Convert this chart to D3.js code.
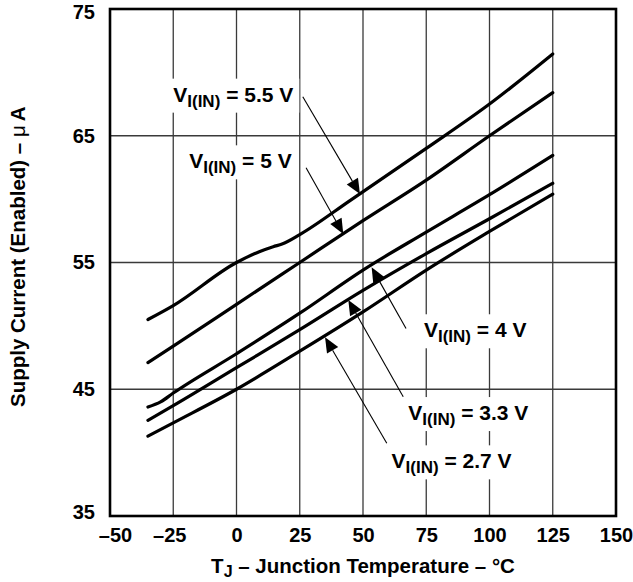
<!DOCTYPE html>
<html>
<head>
<meta charset="utf-8">
<script src="https://cdn.jsdelivr.net/npm/d3@7"></script>
<style>
  body { margin: 0; background: #fff; }
  svg text { font-family: "Liberation Sans", Arial, Helvetica, sans-serif; font-weight: bold; fill: #000; }
</style>
</head>
<body>
<svg class="chart"></svg>
<script>
// Supply current vs junction temperature, one series per input voltage
const xTicks = [-50, -25, 0, 25, 50, 75, 100, 125, 150];
const yTicks = [35, 45, 55, 65, 75];

const t55 = [-35, -25, 0, 9, 14.5, 18, 25, 45, 75, 100, 125];
const i55 = [50.5, 51.6, 55.0, 55.85, 56.25, 56.45, 57.2, 59.9, 64.0, 67.5, 71.45];
const t50 = [-35, -25, 0, 25, 50, 75, 100, 125];
const i50 = [47.1, 48.4, 51.7, 55.0, 58.3, 61.5, 65.0, 68.4];
const t40 = [-35, -30, -25, 0, 25, 50, 75, 100, 125];
const i40 = [43.6, 44.0, 44.7, 47.8, 51.0, 54.4, 57.4, 60.35, 63.45];
const t33 = [-35, -25, 0, 25, 50, 75, 100, 125];
const i33 = [42.55, 43.7, 46.7, 49.7, 52.8, 55.7, 58.45, 61.25];
const t27 = [-35, -25, 0, 25, 50, 75, 100, 125];
const i27 = [41.3, 42.35, 45.0, 48.0, 51.1, 54.4, 57.45, 60.4];

const seriesT = [t55, t50, t40, t33, t27];
const seriesI = [i55, i50, i40, i33, i27];

// annotation labels: voltage text, label anchor (T, I), arrow tail, arrow tip
const labelVolts = ["5.5", "5", "4", "3.3", "2.7"];
const labelT = [-25.0, -18.7, 74.1, 67.9, 61.3];
const labelI = [67.69, 62.43, 49.1, 42.57, 38.76];
const tailT = [26.2, 27.5, 67.0, 65.9, 59.4];
const tailI = [68.08, 62.48, 49.8, 44.41, 40.74];
const tipT = [48.8, 42.2, 53.4, 44.2, 35.0];
const tipI = [60.4, 57.25, 54.62, 52.04, 49.1];

const width = 633, height = 582;
const mLeft = 110, mRight = 616, mTop = 9, mBottom = 516;

const scaleX = d3.scaleLinear().domain([-50, 150]).range([mLeft, mRight]);
const scaleY = d3.scaleLinear().domain([35, 75]).range([mBottom, mTop]);

const svg = d3.select(".chart").attr("width", width).attr("height", height);

// grid
svg.append("g").selectAll("line").data(xTicks.slice(1, -1)).join("line")
    .attr("x1", d => scaleX(d)).attr("x2", d => scaleX(d))
    .attr("y1", mTop).attr("y2", mBottom)
    .attr("stroke", "#3a3a3a").attr("stroke-width", 1.3);
svg.append("g").selectAll("line").data(yTicks.slice(1, -1)).join("line")
    .attr("y1", d => scaleY(d)).attr("y2", d => scaleY(d))
    .attr("x1", mLeft).attr("x2", mRight)
    .attr("stroke", "#3a3a3a").attr("stroke-width", 1.3);

// axes (labels only)
const fmt = d => d < 0 ? "\u2013" + Math.abs(d) : String(d);
const xAxis = svg.append("g").attr("transform", `translate(0,${mBottom})`)
    .call(d3.axisBottom(scaleX).tickValues(xTicks).tickFormat(fmt).tickSize(0).tickPadding(11.5));
const yAxis = svg.append("g").attr("transform", `translate(${mLeft},0)`)
    .call(d3.axisLeft(scaleY).tickValues(yTicks).tickSize(0).tickPadding(15));
[xAxis, yAxis].forEach(a => {
    a.select(".domain").remove();
    a.selectAll("text").attr("font-size", 20).attr("font-family", null);
});
xAxis.selectAll(".tick text").attr("dx", d => d === -50 ? 5 : d === -25 ? -4 : 0);
yAxis.selectAll(".tick text").attr("dy", d => d === 75 ? "0.47em" : d === 35 ? "0.12em" : "0.32em");

// curves
const line = d3.line()
    .x(d => scaleX(d[0]))
    .y(d => scaleY(d[1]))
    .curve(d3.curveMonotoneX);

svg.append("g").selectAll("path").data(seriesT.map((ts, k) => ts.map((t, j) => [t, seriesI[k][j]])))
    .join("path")
    .attr("d", line)
    .attr("fill", "none").attr("stroke", "#000").attr("stroke-width", 3.2)
    .attr("stroke-linecap", "round");

// labels with white backdrop
const labels = svg.append("g");
labelVolts.forEach((v, k) => {
    const g = labels.append("g");
    const bg = g.append("rect").attr("fill", "#fff");
    const txt = g.append("text")
        .attr("x", scaleX(labelT[k])).attr("y", scaleY(labelI[k]))
        .attr("font-size", 21);
    txt.append("tspan").text("V");
    txt.append("tspan").attr("font-size", 17).attr("dy", 5).text("I(IN)");
    txt.append("tspan").attr("dy", -5).text(` = ${v} V`);
    const b = txt.node().getBBox();
    bg.attr("x", b.x - 6).attr("y", b.y - 4).attr("width", b.width + 12).attr("height", b.height + 6);
});

// arrows
const arrows = svg.append("g");
labelVolts.forEach((v, k) => {
    const x0 = scaleX(tailT[k]), y0 = scaleY(tailI[k]);
    const x1 = scaleX(tipT[k]), y1 = scaleY(tipI[k]);
    const dx = x1 - x0, dy = y1 - y0, len = Math.hypot(dx, dy);
    const ux = dx / len, uy = dy / len;
    const hl = 15, hw = 6.5;
    const bx = x1 - ux * hl, by = y1 - uy * hl;
    arrows.append("line")
        .attr("x1", x0).attr("y1", y0).attr("x2", bx).attr("y2", by)
        .attr("stroke", "#000").attr("stroke-width", 1.1);
    arrows.append("path")
        .attr("d", `M${x1},${y1}L${bx - uy * hw},${by + ux * hw}L${bx + uy * hw},${by - ux * hw}Z`)
        .attr("fill", "#000");
});

// frame
svg.append("rect")
    .attr("x", mLeft).attr("y", mTop).attr("width", mRight - mLeft).attr("height", mBottom - mTop)
    .attr("fill", "none").attr("stroke", "#000").attr("stroke-width", 2.6);

// axis titles
const xTitle = svg.append("text")
    .attr("x", (mLeft + mRight) / 2).attr("y", 573)
    .attr("text-anchor", "middle").attr("font-size", 20.5);
xTitle.append("tspan").text("T");
xTitle.append("tspan").attr("font-size", 16).attr("dy", 4).text("J");
xTitle.append("tspan").attr("dy", -4).text(" \u2013 Junction Temperature \u2013 \u00b0C");

const yTitle = svg.append("text")
    .attr("transform", "translate(25,407) rotate(-90)")
    .attr("font-size", 20.5);
yTitle.append("tspan").text("Supply Current (Enabled) \u2013 ");
yTitle.append("tspan").attr("font-weight", "normal").text("\u03bc");
yTitle.append("tspan").text("\u2009A");
</script>
</body>
</html>
